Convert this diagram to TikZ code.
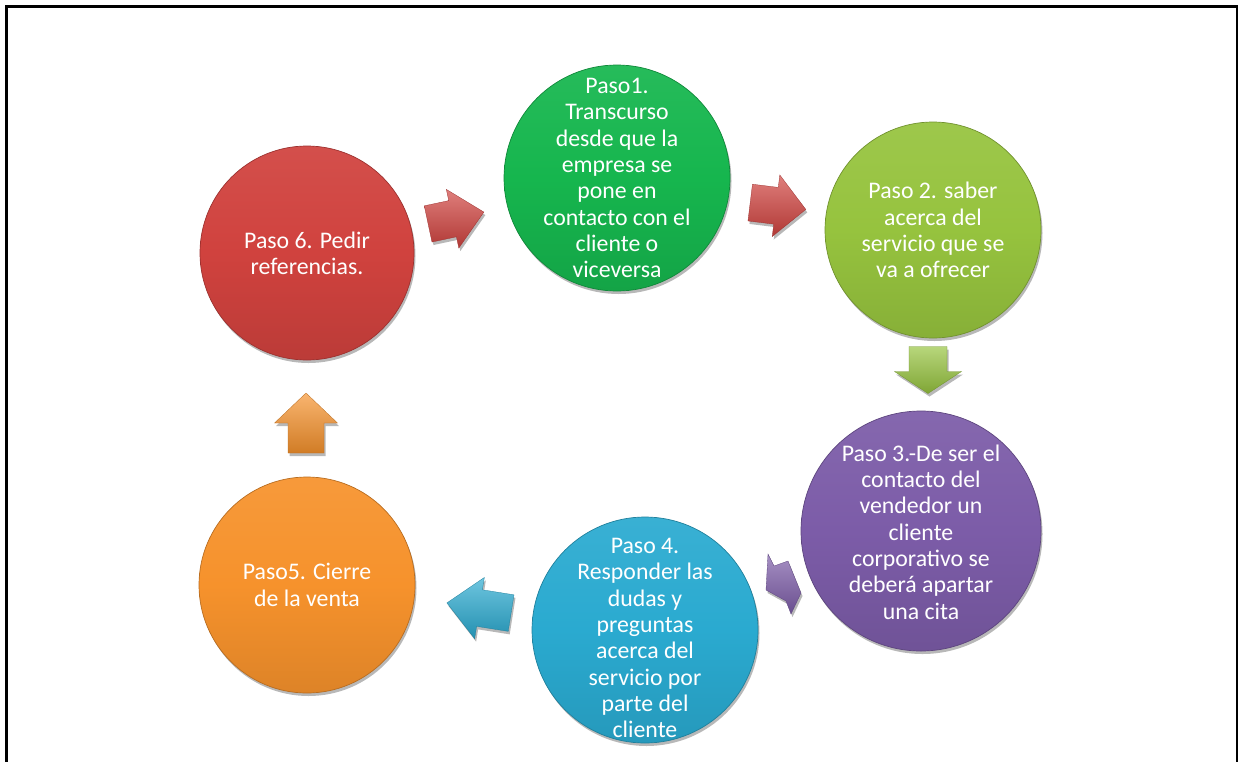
\documentclass[tikz,border=0pt]{standalone}
\usepackage{fontspec}
\setmainfont{Carlito}
\usetikzlibrary{shadows}

\definecolor{cRed}{RGB}{208,66,62}
\definecolor{cGreen}{RGB}{22,182,78}
\definecolor{cLime}{RGB}{150,195,62}
\definecolor{cPurple}{RGB}{124,92,168}
\definecolor{cCyan}{RGB}{42,170,208}
\definecolor{cOrange}{RGB}{246,146,44}

\begin{document}
\begin{tikzpicture}[x=1pt,y=-1pt,
  softshadow/.style={drop shadow={shadow xshift=1.5pt,shadow yshift=-3pt,opacity=.28,fill=black}},
  stage/.style 2 args={circle,inner sep=0pt,minimum size=#2,
    top color=#1!93!white,bottom color=#1!90!black,middle color=#1,
    draw=#1!75!black,line width=.7pt,softshadow},
  lbl/.style={text=white,align=center,inner sep=0pt,
    font=\fontsize{23.8}{26.3}\selectfont},
  arrowfill/.style={top color=#1!68!white,bottom color=#1!85!black,
    draw=#1!75!black,line width=.3pt,softshadow},
  % block arrow pointing along +x: colour, length, head width, shaft width, head length
  pics/blockarrow/.style n args={5}{code={
    \path[arrowfill=#1]
      (-#2/2,-#4/2) -- (#2/2-#5,-#4/2) -- (#2/2-#5,-#3/2) -- (#2/2,0)
      -- (#2/2-#5,#3/2) -- (#2/2-#5,#4/2) -- (-#2/2,#4/2) -- cycle;
  }}]

\useasboundingbox (0,0) rectangle (1240,761);

% page frame
\draw[line width=2.3pt,black] (6.5,6.5) rectangle (1237.3,790);

% stages
\node[stage={cGreen}{226}]  (p1) at (617,178) {};
\node[stage={cLime}{216}]   (p2) at (933,230) {};
\node[stage={cPurple}{240}] (p3) at (921,531) {};
\node[stage={cCyan}{226}]   (p4) at (645,630) {};
\node[stage={cOrange}{216}] (p5) at (307,585) {};
\node[stage={cRed}{214}]    (p6) at (307,253) {};

% stage texts
\node[lbl] (t1) at (p1.center) {Paso1.\\Transcurso\\desde que la\\empresa se\\pone en\\contacto con el\\cliente o\\viceversa};
\node[lbl] (t2) at (p2.center) {Paso 2. saber\\acerca del\\servicio que se\\va a ofrecer};
\node[lbl] (t3) at ([yshift=-1pt]p3.center) {Paso 3.-De ser el\\contacto del\\vendedor un\\cliente\\corporativo se\\deberá apartar\\una cita};
\node[lbl] (t4) at ([yshift=-8pt]p4.center) {Paso 4.\\Responder las\\dudas y\\preguntas\\acerca del\\servicio por\\parte del\\cliente};
\node[lbl] (t5) at (p5.center) {Paso5. Cierre\\de la venta};
\node[lbl] (t6) at (p6.center) {Paso 6. Pedir\\referencias.};

% arrows between stages
\pic[rotate=12]  (a61) at (456,218) {blockarrow={cRed}{57}{60}{37}{32}};
\pic[rotate=-7]  (a12) at (778,206) {blockarrow={cRed}{56}{62}{37}{30}};
\pic[rotate=-90] (a23) at (928,370) {blockarrow={cLime}{47}{67}{38}{22}};
\pic[rotate=171] (a45) at (479,608) {blockarrow={cCyan}{65}{62}{37}{33}};
\pic[rotate=90]  (a56) at (306,423) {blockarrow={cOrange}{60}{63}{36}{30}};
% foreshortened arrow from stage 3 to stage 4
\path[arrowfill=cPurple] (768,554) -- (774,566) -- (788,561) -- (801,593)
  -- (791,614) -- (786,601) -- (766,590) -- cycle;

\end{tikzpicture}
\end{document}
